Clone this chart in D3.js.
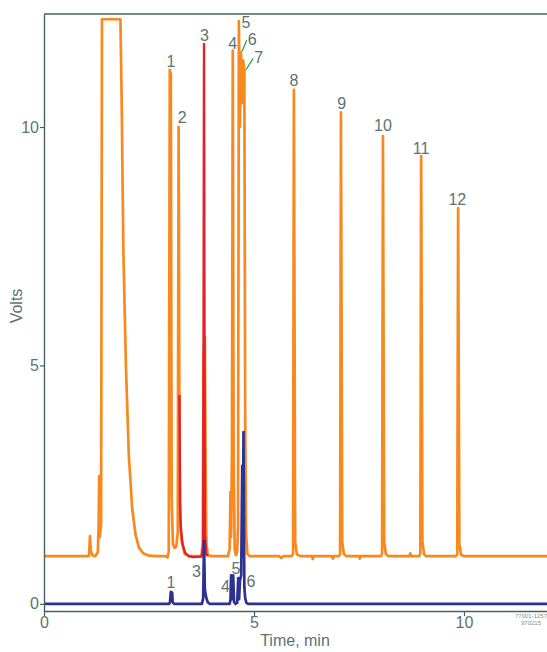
<!DOCTYPE html>
<html>
<head>
<meta charset="utf-8">
<script src="https://cdn.jsdelivr.net/npm/d3@7"></script>
<style>
  body { margin: 0; background: #fff; }
  svg { display: block; font-family: "Liberation Sans", Arial, sans-serif; }
</style>
</head>
<body>
<svg id="chart" width="547" height="652"></svg>
<script>
// traces: [time (min), volts]
var orangeTrace = [
  [0,1.0],[0.6,1.0],[1.07,1.0],[1.095,1.42],[1.115,1.12],[1.15,1.02],[1.22,1.0],[1.28,1.08],
  [1.30,1.6],[1.315,2.68],[1.33,1.4],[1.36,1.7],[1.38,12.26],[1.82,12.26],[1.85,10.5],[1.89,7.4],
  [1.95,5.0],[2.02,3.1],[2.1,2.0],[2.18,1.45],[2.26,1.18],[2.36,1.06],[2.5,1.01],[2.7,1.0],
  [2.9,1.0],[2.94,0.97],[2.97,1.1],[2.995,11.2],[3.02,11.1],[3.04,2.2],[3.07,1.25],[3.11,1.17],
  [3.15,1.2],[3.185,1.5],[3.205,10.0],[3.225,4.0],[3.24,1.8],[3.28,1.3],[3.35,1.05],[3.45,1.0],
  [3.75,1.0],[3.78,1.3],[3.80,5.16],[3.83,5.6],[3.845,3.3],[3.865,1.3],[3.9,1.02],[4.0,1.0],
  [4.38,1.0],[4.42,1.15],[4.44,2.35],[4.455,1.4],[4.475,3.2],[4.495,11.6],[4.515,3.0],[4.54,1.15],
  [4.57,1.02],[4.6,1.1],[4.62,1.6],[4.64,12.22],[4.665,10.0],[4.69,11.57],[4.71,10.5],[4.74,11.4],
  [4.77,11.2],[4.79,4.0],[4.81,1.5],[4.84,1.05],[4.9,1.0],[5.6,1.0],[5.65,0.96],[5.7,1.0],
  [5.9,1.0],[5.93,1.05],[5.95,10.78],[5.98,1.3],[6.02,1.04],[6.1,1.0],[6.38,1.0],[6.4,0.94],
  [6.42,1.0],[6.85,1.0],[6.88,0.95],[6.9,1.0],[7.02,1.0],[7.05,1.05],[7.07,10.31],[7.1,1.3],
  [7.14,1.04],[7.2,1.0],[7.5,1.0],[7.52,0.95],[7.54,1.0],[8.02,1.0],[8.05,1.05],[8.07,9.81],
  [8.1,1.3],[8.14,1.04],[8.2,1.0],[8.7,1.0],[8.72,1.06],[8.74,1.0],[8.93,1.0],[8.96,1.05],
  [8.98,9.39],[9.01,1.3],[9.05,1.04],[9.1,1.0],[9.81,1.0],[9.84,1.05],[9.86,8.3],[9.89,1.25],
  [9.93,1.03],[10.0,1.0],[12,1.0]
]
var redTrace = [
  [3.225,4.38],[3.24,2.1],[3.26,1.55],[3.30,1.25],[3.36,1.07],[3.45,1.0],[3.55,0.98],[3.75,0.99],
  [3.79,1.2],[3.81,11.74],[3.83,1.5],[3.86,1.05],[3.9,1.0]
]
var blueTrace = [
  [0,0],[2.98,0],[3.0,0.04],[3.02,0.25],[3.05,0.24],[3.065,0.03],[3.1,0],[3.76,0],
  [3.79,0.12],[3.81,1.32],[3.83,0.3],[3.86,0.14],[3.9,0.03],[3.95,0],[4.42,0],[4.44,0.08],
  [4.455,0.6],[4.475,0.1],[4.505,0.6],[4.525,0.04],[4.56,0],[4.6,0.02],[4.625,0.54],[4.645,0.1],
  [4.665,0.48],[4.695,0.6],[4.72,2.9],[4.735,1.0],[4.75,3.6],[4.77,0.35],[4.79,0.12],[4.82,0.02],
  [4.86,0],[12,0]
]

// peak labels, anchored in data units (label centre)
var topLabels = ['1','2','3','4','5','6','7','8','9','10','11','12']
var topLabelTime = [3.02,3.29,3.82,4.49,4.81,4.96,5.11,5.95,7.09,8.07,8.98,9.84]
var topLabelVolts = [11.37,10.20,11.93,11.75,12.19,11.84,11.46,10.99,10.50,10.04,9.55,8.49]
var blueLabels = ['1','3','4','5','6']
var blueLabelTime = [3.02,3.63,4.32,4.57,4.93]
var blueLabelVolts = [0.46,0.69,0.36,0.74,0.48]
// leader lines for labels 6 and 7 point at these peak tops
var pointerLabels = ['6','7']
var pointerTime = [4.714,4.81]
var pointerVolts = [11.59,11.2]

var xTicks = [0,5,10]
var yTicks = [0,5,10]

var textColor = '#5a7472', axisColor = '#48625f'

var svg = d3.select('#chart')
var x = d3.scaleLinear().domain([0,12]).range([44,548])
var y = d3.scaleLinear().domain([-0.15,12.37]).range([611,14])

svg.append('clipPath').attr('id','plot')
  .append('rect')
  .attr('x', x(0)).attr('y', y(12.37))
  .attr('width', x(12) - x(0)).attr('height', y(-0.15) - y(12.37))

var line = d3.line().x(d => x(d[0])).y(d => y(d[1]))
var traces = svg.append('g').attr('clip-path','url(#plot)')

traces.append('path').datum(orangeTrace)
  .attr('d', line).attr('fill','none').attr('stroke','#f7891f')
  .attr('stroke-width',2.7).attr('stroke-linejoin','round')
traces.append('path').datum(redTrace)
  .attr('d', line).attr('fill','none').attr('stroke','#e61f2a')
  .attr('stroke-width',2.4).attr('stroke-linejoin','round')
traces.append('path').datum(blueTrace)
  .attr('d', line).attr('fill','none').attr('stroke','#2e3190')
  .attr('stroke-width',2.7).attr('stroke-linejoin','round')

// axes
var xAxis = svg.append('g')
  .attr('transform','translate(0,' + y(-0.15) + ')')
  .call(d3.axisBottom(x).tickValues(xTicks).tickSize(5).tickSizeOuter(0).tickPadding(1))
var yAxis = svg.append('g')
  .attr('transform','translate(' + x(0) + ',0)')
  .call(d3.axisLeft(y).tickValues(yTicks).tickSize(4).tickSizeOuter(0).tickPadding(1))
;[xAxis, yAxis].forEach(g => {
  g.select('.domain').attr('stroke', axisColor).attr('stroke-width',1.4)
  g.selectAll('line').attr('stroke', axisColor).attr('stroke-width',1.2)
  g.selectAll('text').attr('fill', textColor).attr('font-size',16)
    .attr('font-family','"Liberation Sans", Arial, sans-serif')
})
svg.append('line')
  .attr('x1', x(0)).attr('x2', x(12))
  .attr('y1', y(12.37)).attr('y2', y(12.37))
  .attr('stroke', axisColor).attr('stroke-width',1.4)

svg.append('text')
  .attr('x', 295).attr('y', 646)
  .attr('text-anchor','middle').attr('font-size',16).attr('fill',textColor)
  .text('Time, min')
svg.append('text')
  .attr('transform','translate(22,306) rotate(-90)')
  .attr('text-anchor','middle').attr('font-size',16).attr('fill',textColor)
  .text('Volts')

// peak labels
svg.append('g').selectAll('text')
  .data(topLabels.map((t,i) => ({t: t, x: topLabelTime[i], v: topLabelVolts[i]})))
  .enter().append('text')
  .attr('x', d => x(d.x)).attr('y', d => y(d.v)).attr('dy','0.36em')
  .attr('text-anchor','middle').attr('font-size',16).attr('fill',textColor)
  .text(d => d.t)
svg.append('g').selectAll('text')
  .data(blueLabels.map((t,i) => ({t: t, x: blueLabelTime[i], v: blueLabelVolts[i]})))
  .enter().append('text')
  .attr('x', d => x(d.x)).attr('y', d => y(d.v)).attr('dy','0.36em')
  .attr('text-anchor','middle').attr('font-size',16).attr('fill',textColor)
  .text(d => d.t)

svg.append('g').selectAll('line')
  .data(pointerLabels.map((t,i) => {
    var k = topLabels.indexOf(t)
    return {lx: topLabelTime[k], lv: topLabelVolts[k], px: pointerTime[i], pv: pointerVolts[i]}
  }))
  .enter().append('line')
  .attr('x1', d => x(d.lx) - 5.5).attr('y1', d => y(d.lv) + 1)
  .attr('x2', d => x(d.px)).attr('y2', d => y(d.pv))
  .attr('stroke','#1a9c4c').attr('stroke-width',1.2)

// drawing code in the corner
svg.append('text')
  .attr('x', 531).attr('y', 618)
  .attr('text-anchor','middle').attr('font-size',6).attr('fill','#8a8a8a')
  .text('77001-1257')
svg.append('text')
  .attr('x', 531).attr('y', 625)
  .attr('text-anchor','middle').attr('font-size',6).attr('fill','#8a8a8a')
  .text('970215')
</script>
</body>
</html>
